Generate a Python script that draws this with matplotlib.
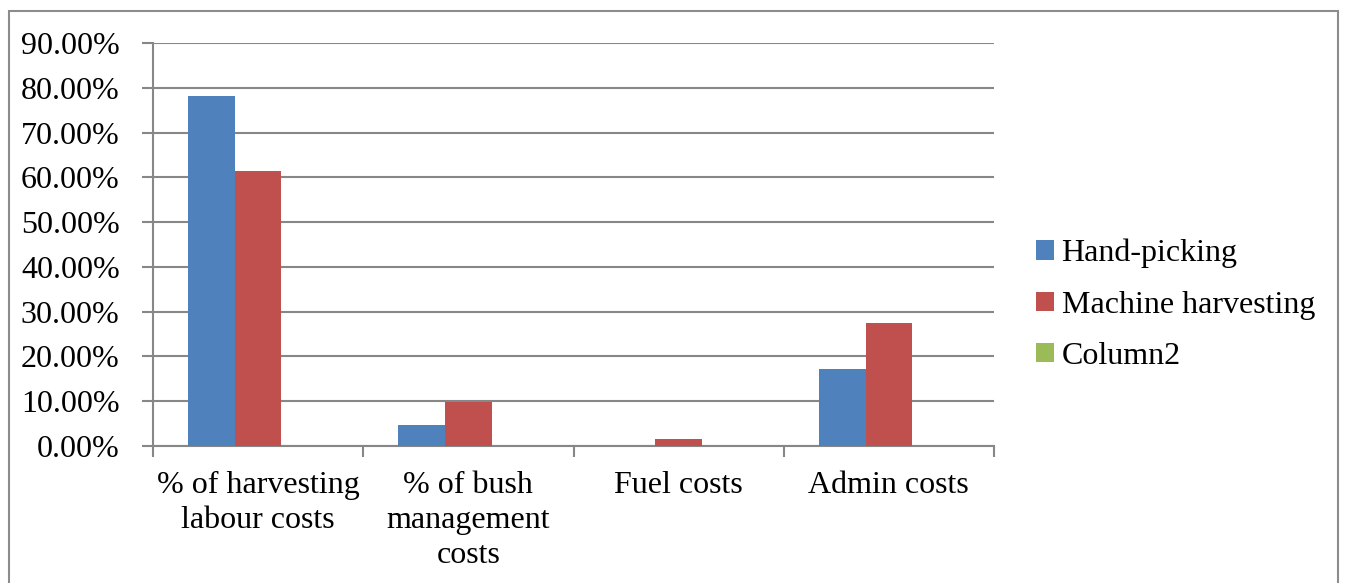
import numpy as np
import matplotlib
matplotlib.use('Agg')
import matplotlib.pyplot as plt
from matplotlib.patches import Rectangle

# Data
categories = ['% of harvesting\nlabour costs', '% of bush\nmanagement\ncosts', 'Fuel costs', 'Admin costs']
series = ['Hand-picking', 'Machine harvesting', 'Column2']
hand_picking = [78.1, 4.7, 0.0, 17.2]
machine_harvesting = [61.4, 9.8, 1.6, 27.5]
column2 = [0.0, 0.0, 0.0, 0.0]
colors = ['#4F81BD', '#C0504D', '#9BBB59']

plt.rcParams['font.family'] = ['Liberation Serif', 'DejaVu Serif']
fs = 23

fig = plt.figure(figsize=(13.46, 5.83), dpi=100)
ax = fig.add_axes([153/1346, 1-446/583, (994-153)/1346, (446-43)/583])

# Bars (Excel style: gap width 150%)
x = np.arange(len(categories))
w = 1/4.5
for k,(vals,name,c) in enumerate(zip([hand_picking,machine_harvesting,column2],series,colors)):
	ax.bar(x+(k-1)*w, vals, w, color=c, label=name, zorder=3)

# Axes properties
grid_col = '#878787'
ax.set_xlim(-0.5, len(categories)-0.5)
ax.set_ylim(0, 90)
ax.set_yticks(np.arange(0, 91, 10))
ax.set_yticklabels(['%.2f%%' % v for v in np.arange(0, 91, 10)], fontsize=fs)
ax.yaxis.grid(True, color=grid_col, lw=1.5, zorder=0)
ax.set_xticks(np.arange(-0.5, len(categories), 1))
ax.set_xticklabels([])
ax.set_xticks(x, minor=True)
ax.set_xticklabels(categories, minor=True, fontsize=fs, linespacing=1.27)
ax.tick_params(axis='x', which='minor', length=0, pad=18)
ax.tick_params(axis='x', which='major', length=8, width=1.5, color=grid_col, direction='out')
ax.tick_params(axis='y', length=8, width=1.5, color=grid_col, direction='out', pad=16)
for s in ['top','right']:
	ax.spines[s].set_visible(False)
for s in ['left','bottom']:
	ax.spines[s].set_color(grid_col)
	ax.spines[s].set_linewidth(1.5)

# Legend
ax.legend(loc='center left', bbox_to_anchor=(1020/1346, 1-305/583), bbox_transform=fig.transFigure,
	frameon=False, fontsize=fs, handlelength=0.55, handleheight=0.55, handletextpad=0.25,
	labelspacing=0.7, borderpad=0)

# Outer border (bottom edge cut off)
fig.patches.append(Rectangle((9/1346, -0.05), (1338-9)/1346, 1.05-11/583, transform=fig.transFigure,
	fill=False, edgecolor='#8c8c8c', lw=1.5))

fig.savefig('out.png', dpi=100)
